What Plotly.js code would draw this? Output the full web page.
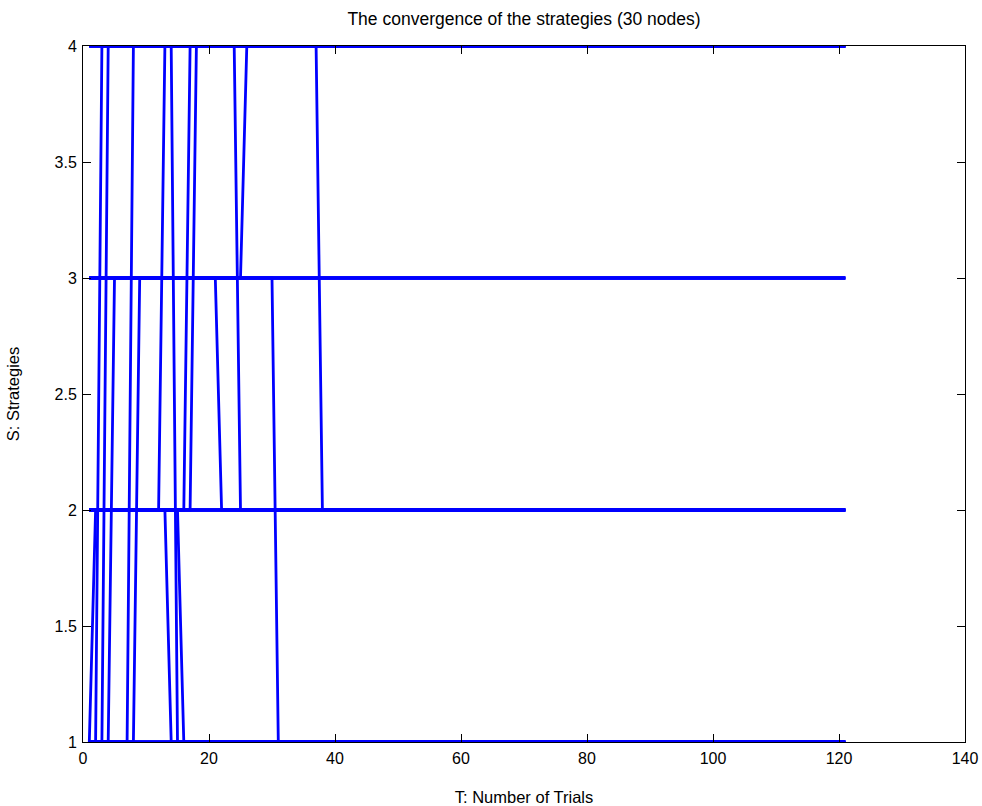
<!DOCTYPE html>
<html>
<head>
<meta charset="utf-8">
<script src="https://cdn.plot.ly/plotly-3.0.1.min.js"></script>
<style>
html,body{margin:0;padding:0;background:#fff;}
#chart{width:982px;height:806px;}
</style>
</head>
<body>
<div id="chart"></div>
<script>
// Number of trials (x runs 1..numTrials)
const numTrials = 121;

// Initial strategy of each of the 30 nodes
const startStrategy = [1, 1, 1, 1, 1, 1, 2, 2, 2, 2, 3,
                       1, 1, 1, 1, 2, 2, 2, 2, 2, 3, 3, 3, 3, 3, 4, 4, 4, 4, 4];

// Strategy changes per node: [trial at which new strategy starts, new strategy]
const strategyChanges = [
  [[2, 2], [13, 4], [25, 2]],
  [[3, 4], [15, 1]],
  [[4, 4], [38, 2]],
  [[5, 3], [22, 2]],
  [[8, 4]],
  [[9, 3], [31, 1]],
  [[14, 1]],
  [[16, 1]],
  [[17, 4]],
  [[18, 4]],
  [[26, 4]],
  [], [], [], [], [], [], [], [], [], [], [], [], [], [], [], [], [], [], []
];

const xTickVals = [0, 20, 40, 60, 80, 100, 120, 140];
const yTickVals = [1, 1.5, 2, 2.5, 3, 3.5, 4];
const yTickText = ['1', '1.5', '2', '2.5', '3', '3.5', '4'];

const traces = [];
for (let n = 0; n < startStrategy.length; n++) {
  const xs = [], ys = [];
  let cur = startStrategy[n];
  const ch = strategyChanges[n];
  let k = 0;
  for (let t = 1; t <= numTrials; t++) {
    while (k < ch.length && ch[k][0] === t) { cur = ch[k][1]; k++; }
    xs.push(t);
    ys.push(cur);
  }
  traces.push({
    x: xs, y: ys, type: 'scatter', mode: 'lines',
    line: {color: 'rgb(0,0,255)', width: 2.8},
    showlegend: false, hoverinfo: 'skip'
  });
}

const fam = 'Liberation Sans, Arial, Helvetica, sans-serif';
const tickFont = {family: fam, size: 16, color: '#000'};
const axTitleFont = {family: fam, size: 16.5, color: '#000'};

const layout = {
  width: 982, height: 806,
  margin: {l: 83, r: 17, t: 46, b: 64},
  paper_bgcolor: '#fff', plot_bgcolor: '#fff',
  font: tickFont,
  title: {text: 'The convergence of the strategies (30 nodes)', font: {family: fam, size: 17.5, color: '#000'},
          x: 0.5, xref: 'paper', xanchor: 'center', y: 1 - 19/806, yref: 'container', yanchor: 'middle'},
  xaxis: {
    range: [0, 140], tickvals: xTickVals, ticktext: xTickVals.map(String),
    ticks: 'inside', ticklen: 8, tickcolor: '#000', tickwidth: 1,
    showline: true, linecolor: '#000', linewidth: 1, mirror: 'ticks',
    showgrid: false, zeroline: false, automargin: false,
    tickfont: tickFont, ticklabelstandoff: 2,
    title: {text: 'T: Number of Trials', font: axTitleFont, standoff: 26}
  },
  yaxis: {
    range: [1, 4], tickvals: yTickVals, ticktext: yTickText,
    ticks: 'inside', ticklen: 8, tickcolor: '#000', tickwidth: 1,
    showline: true, linecolor: '#000', linewidth: 1, mirror: 'ticks',
    showgrid: false, zeroline: false, automargin: false,
    tickfont: tickFont, ticklabelstandoff: 2,
    title: {text: 'S: Strategies', font: axTitleFont, standoff: 30}
  },
  hovermode: false
};

Plotly.newPlot('chart', traces, layout, {displayModeBar: false, staticPlot: true});
</script>
</body>
</html>
